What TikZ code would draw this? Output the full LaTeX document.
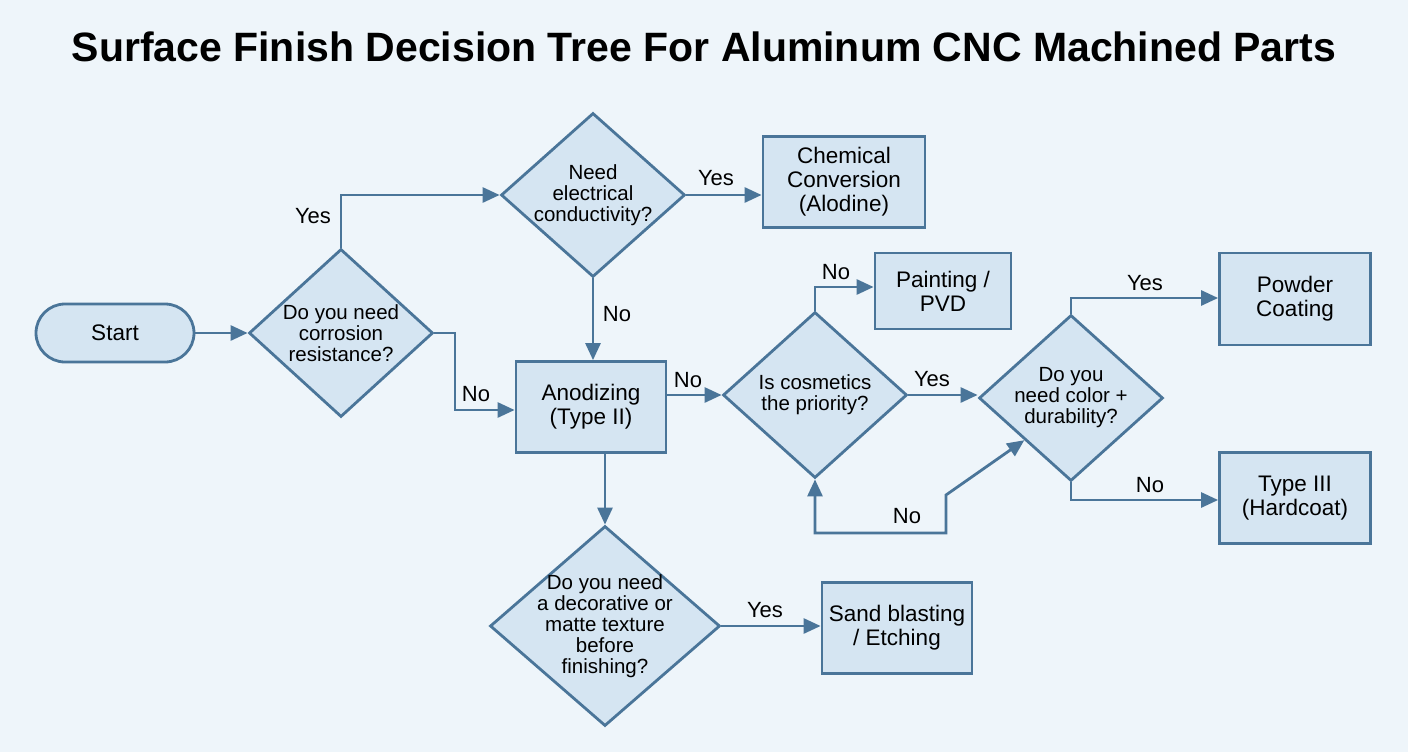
\documentclass[tikz,border=0pt]{standalone}
\usepackage{fontspec}
\setmainfont{Liberation Sans}
\usetikzlibrary{arrows.meta,shapes.geometric,positioning}
\definecolor{bgblue}{HTML}{EEF5FA}
\definecolor{boxfill}{HTML}{D5E5F2}
\definecolor{linecol}{HTML}{4A7599}
\tikzset{
  box/.style={draw=linecol,fill=boxfill,line width=2.8pt,rectangle,align=center,inner sep=0pt,font=\fontsize{22.5}{24}\selectfont},
  decision/.style={draw=linecol,fill=boxfill,line width=2.8pt,diamond,inner sep=0pt},
  dtext/.style={align=center,inner sep=0pt,font=\fontsize{20.5}{21}\selectfont},
  arr/.style={draw=linecol,line width=2.8pt,-{Triangle[length=17pt,width=15pt]}},
  lbl/.style={font=\fontsize{22}{24}\selectfont,inner sep=1pt}
}
\begin{document}
\begin{tikzpicture}[x=1pt,y=-1pt]
  \useasboundingbox[fill=bgblue] (0,0) rectangle (1408,752);
  \node[font=\bfseries\fontsize{41}{44}\selectfont] (title) at (704,47) {Surface Finish Decision Tree For Aluminum CNC Machined Parts};

  \node[box,rounded corners=29pt,minimum width=158pt,minimum height=58pt] (start) at (115,333) {Start};
  \node[decision,minimum width=184pt,minimum height=168pt] (corr) at (341,333) {};
  \node[dtext] (corrt) at (corr) {Do you need\\corrosion\\resistance?};
  \node[decision,minimum width=184pt,minimum height=164pt] (elec) at (593,195) {};
  \node[dtext] (elect) at (elec) {Need\\electrical\\conductivity?};
  \node[box,minimum width=162pt,minimum height=91pt] (chem) at (844,182) {Chemical\\Conversion\\(Alodine)};
  \node[box,minimum width=150pt,minimum height=91pt] (anod) at (591,407) {Anodizing\\(Type II)};
  \node[decision,minimum width=184pt,minimum height=166pt] (cosm) at (815,395) {};
  \node[dtext] (cosmt) at (cosm) {Is cosmetics\\the priority?};
  \node[box,minimum width=136pt,minimum height=76pt] (paint) at (943,291) {Painting /\\PVD};
  \node[decision,minimum width=184pt,minimum height=166pt] (color) at (1071,398) {};
  \node[dtext] (colort) at (color) {Do you\\need color +\\durability?};
  \node[box,minimum width=151pt,minimum height=92pt] (powder) at (1295,299) {Powder\\Coating};
  \node[box,minimum width=151pt,minimum height=91pt] (hard) at (1295,498) {Type III\\(Hardcoat)};
  \node[decision,minimum width=230pt,minimum height=200pt] (deco) at (605,626) {};
  \node[dtext] (decot) at (deco) {Do you need\\a decorative or\\matte texture\\before\\finishing?};
  \node[box,minimum width=150pt,minimum height=91pt] (sand) at (897,628) {Sand blasting\\/ Etching};

  % connectors
  \draw[arr] (start) -- (corr);
  \draw[arr] (corr.north) |- (elec.west);
  \draw[arr] (corr.east) -- (455,333) |- (anod.west |- 0,410);
  \draw[arr] (elec.east) -- (chem.west |- elec.east);
  \draw[arr] (elec.south) -- (elec.south |- anod.north);
  \draw[arr] (anod.east |- cosm.west) -- (cosm.west);
  \draw[arr] (cosm.north) |- (paint.west |- 0,287);
  \draw[arr] (cosm.east) -- (color.west |- cosm.east);
  \coordinate (loopa) at (815,533);
  \coordinate (loopb) at (946,533);
  \coordinate (loopc) at (946,495);
  \draw[arr,{Triangle[length=17pt,width=15pt]}-{Triangle[length=17pt,width=15pt]}] (cosm.south) -- (loopa) -- (loopb) -- (loopc) -- (color.south west);
  \draw[arr] (color.north) |- (powder.west |- 0,298);
  \draw[arr] (color.south) |- (hard.west |- 0,500);
  \draw[arr] (605,453) -- (deco.north);
  \draw[arr] (deco.east) -- (sand.west |- deco.east);

  % labels
  \node[lbl] (lyes1) at (313,216) {Yes};
  \node[lbl] (lno1) at (476,394) {No};
  \node[lbl] (lyes2) at (716,178) {Yes};
  \node[lbl] (lno2) at (617,314) {No};
  \node[lbl] (lno3) at (688,380) {No};
  \node[lbl] (lno4) at (836,272) {No};
  \node[lbl] (lyes3) at (932,379) {Yes};
  \node[lbl] (lno5) at (907,516) {No};
  \node[lbl] (lyes4) at (1145,283) {Yes};
  \node[lbl] (lno6) at (1150,485) {No};
  \node[lbl] (lyes5) at (765,610) {Yes};
\end{tikzpicture}
\end{document}
